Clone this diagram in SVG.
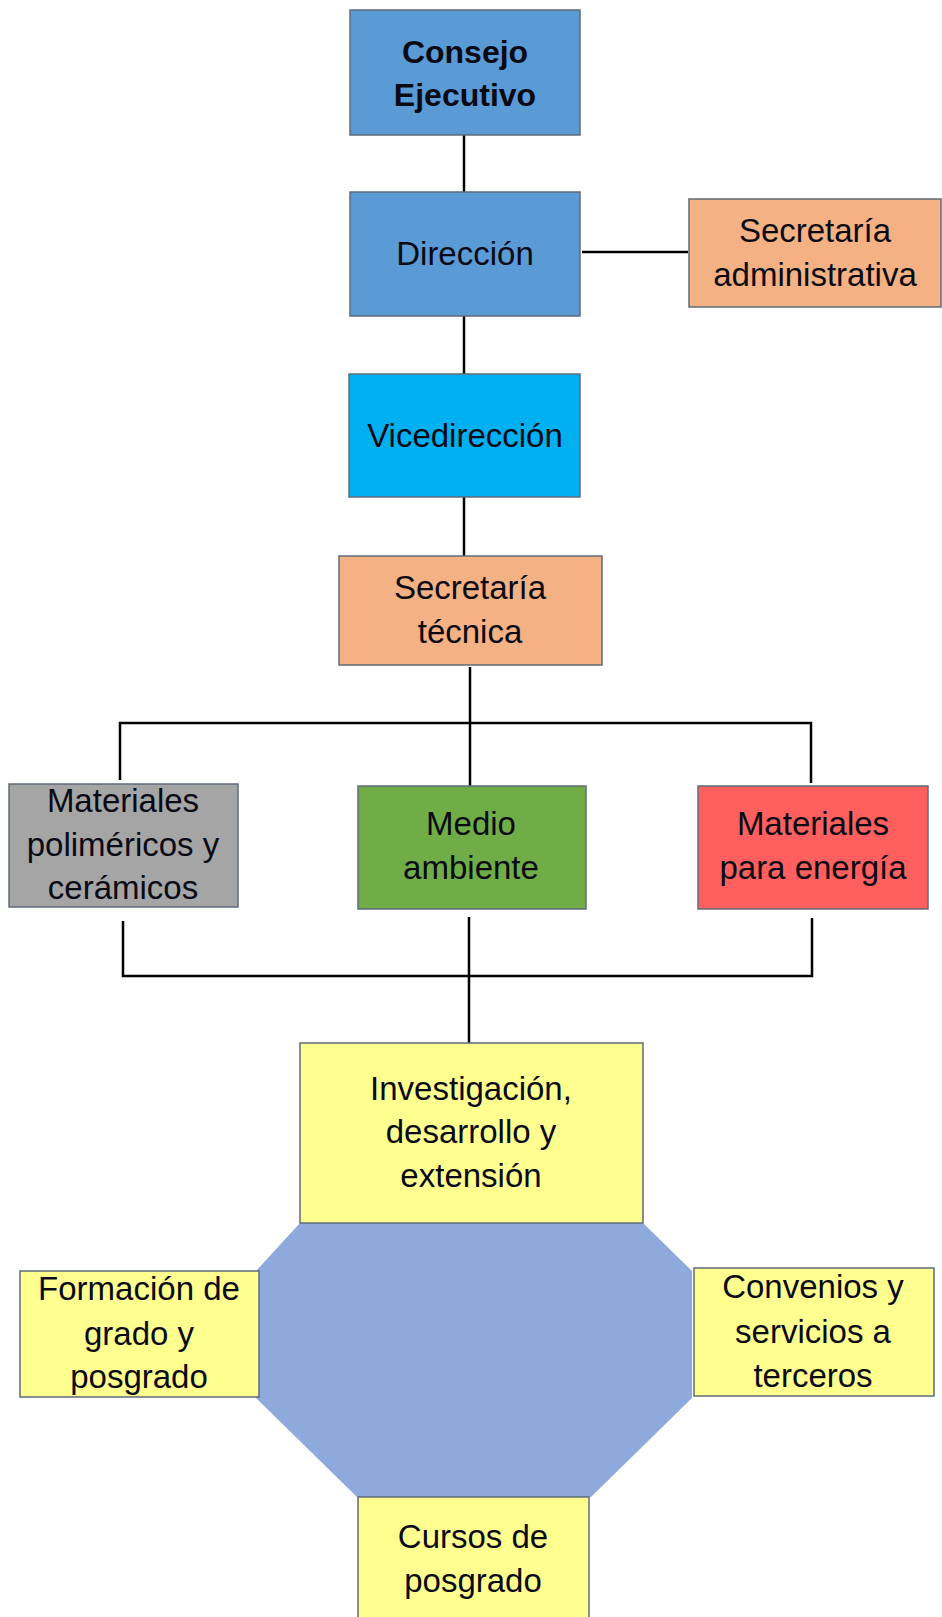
<svg xmlns="http://www.w3.org/2000/svg" width="942" height="1617" viewBox="0 0 942 1617">
<style>
.box{stroke:#5f6b7a;stroke-width:1.5}
.t{font-family:"Liberation Sans",Arial,sans-serif;font-size:33px;fill:#0a0a14;text-anchor:middle}
.b{font-weight:bold;font-size:32px}
.c{stroke:#000;stroke-width:2.5;fill:none}
</style>
<rect width="942" height="1617" fill="#fff"/>
<g id="connectors">
<line class="c" x1="464" y1="135" x2="464" y2="192"/>
<line class="c" x1="582" y1="252" x2="688" y2="252"/>
<line class="c" x1="464" y1="316" x2="464" y2="374"/>
<line class="c" x1="464" y1="497" x2="464" y2="556"/>
<line class="c" x1="470" y1="667" x2="470" y2="786"/>
<polyline class="c" points="120,780 120,723 811,723 811,783"/>
<polyline class="c" points="123,921 123,976 812,976 812,918"/>
<line class="c" x1="469" y1="917" x2="469" y2="1043"/>
</g>
<g id="octagon">
<polygon points="300,1223 643,1223 692,1271 692,1398 591,1497 357,1497 256,1398 256,1271" fill="#8EA9DB"/>
</g>
<g id="consejo">
<rect class="box" x="350" y="10" width="230" height="125" fill="#5B9BD5"/>
<text class="t b" x="465" y="63">Consejo</text>
<text class="t b" x="465" y="106">Ejecutivo</text>
</g>
<g id="direccion">
<rect class="box" x="350" y="192" width="230" height="124" fill="#5B9BD5"/>
<text class="t" x="465" y="265">Dirección</text>
</g>
<g id="sec-admin">
<rect class="box" x="689" y="199" width="252" height="108" fill="#F4B183"/>
<text class="t" x="815" y="242">Secretaría</text>
<text class="t" x="815" y="286">administrativa</text>
</g>
<g id="vicedireccion">
<rect class="box" x="349" y="374" width="231" height="123" fill="#00B0F0"/>
<text class="t" x="465" y="447">Vicedirección</text>
</g>
<g id="sec-tecnica">
<rect class="box" x="339" y="556" width="263" height="109" fill="#F4B183"/>
<text class="t" x="470" y="599">Secretaría</text>
<text class="t" x="470" y="643">técnica</text>
</g>
<g id="polimericos">
<rect class="box" x="9" y="784" width="229" height="123" fill="#A5A5A5"/>
<text class="t" x="123" y="812">Materiales</text>
<text class="t" x="123" y="856">poliméricos y</text>
<text class="t" x="123" y="899">cerámicos</text>
</g>
<g id="medio-ambiente">
<rect class="box" x="358" y="786" width="228" height="123" fill="#70AD47"/>
<text class="t" x="471" y="835">Medio</text>
<text class="t" x="471" y="879">ambiente</text>
</g>
<g id="energia">
<rect class="box" x="698" y="786" width="230" height="123" fill="#FF5F5F"/>
<text class="t" x="813" y="835">Materiales</text>
<text class="t" x="813" y="879">para energía</text>
</g>
<g id="investigacion">
<rect class="box" x="300" y="1043" width="343" height="180" fill="#FFFF8F"/>
<text class="t" x="471" y="1100">Investigación,</text>
<text class="t" x="471" y="1143">desarrollo y</text>
<text class="t" x="471" y="1187">extensión</text>
</g>
<g id="formacion">
<rect class="box" x="20" y="1271" width="239" height="126" fill="#FFFF8F"/>
<text class="t" x="139" y="1300">Formación de</text>
<text class="t" x="139" y="1345">grado y</text>
<text class="t" x="139" y="1388">posgrado</text>
</g>
<g id="convenios">
<rect class="box" x="694" y="1268" width="240" height="128" fill="#FFFF8F"/>
<text class="t" x="813" y="1298">Convenios y</text>
<text class="t" x="813" y="1343">servicios a</text>
<text class="t" x="813" y="1387">terceros</text>
</g>
<g id="cursos">
<rect class="box" x="358" y="1497" width="231" height="125" fill="#FFFF8F"/>
<text class="t" x="473" y="1548">Cursos de</text>
<text class="t" x="473" y="1592">posgrado</text>
</g>
</svg>
